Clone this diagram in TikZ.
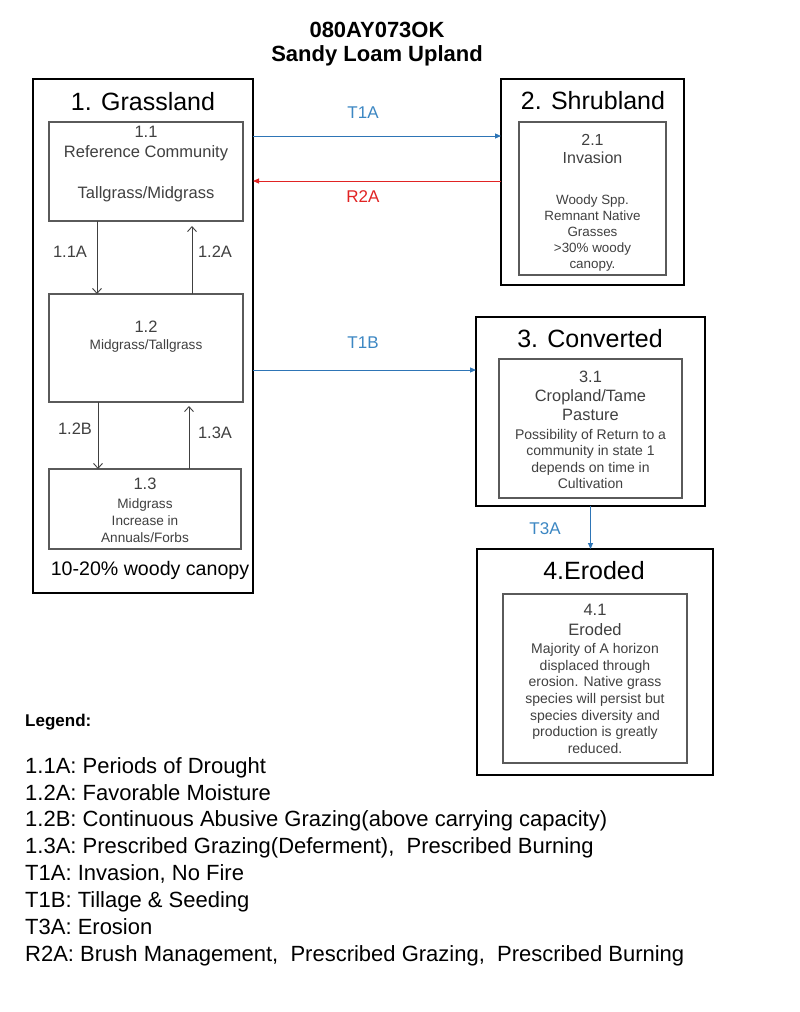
\documentclass[tikz,border=0pt]{standalone}
\usepackage{fontspec}
\setmainfont{Liberation Sans}
\usetikzlibrary{arrows.meta}
\definecolor{arrblue}{RGB}{46,117,182}
\definecolor{lblblue}{RGB}{60,135,195}
\definecolor{arrred}{RGB}{225,35,35}
\definecolor{boxtxt}{RGB}{64,64,64}
\definecolor{innerline}{RGB}{90,90,90}
\newcommand\fsz[2]{\fontsize{#1pt}{#2pt}\selectfont}
\begin{document}
\begin{tikzpicture}[x=1pt,y=-1pt,
  outerbox/.style={draw=black, line width=2.2pt, inner sep=0, outer sep=0},
  innerbox/.style={draw=innerline, line width=1.2pt, inner sep=0, outer sep=0},
  txt/.style={inner sep=0, align=center, anchor=north, text=boxtxt},
  stitle/.style={inner sep=0, anchor=north, text=black, font=\fsz{25}{28}},
  vline/.style={draw=black!75, line width=0.9pt, -{Straight Barb[length=5pt,width=9pt]}},
  bluearrow/.style={draw=arrblue, line width=1pt, -{Triangle[length=6pt,width=5pt]}},
  redarrow/.style={draw=arrred, line width=1pt, -{Triangle[length=6pt,width=5pt]}},
  elabel/.style={inner sep=0, font=\fsz{16.5}{19}, text=boxtxt},
  tlabel/.style={inner sep=0, font=\fsz{17}{20}},
]
\fill[white] (0,0) rectangle (800,1012);
\useasboundingbox (0,0) rectangle (800,1012);

% title
\node[inner sep=0, anchor=north, align=center, font=\fsz{22}{24}\bfseries] (title) at (377,22) {080AY073OK\\Sandy Loam Upland};

% outer state boxes
\node[outerbox, minimum width=220pt, minimum height=514pt] (g) at (143,336) {};
\node[outerbox, minimum width=183pt, minimum height=206pt] (s) at (592.5,182) {};
\node[outerbox, minimum width=229pt, minimum height=189pt] (c) at (590.5,411.5) {};
\node[outerbox, minimum width=236pt, minimum height=226pt] (e) at (595,662) {};

% inner community boxes
\node[innerbox, minimum width=194pt, minimum height=99pt] (b11) at (146,171.5) {};
\node[innerbox, minimum width=194pt, minimum height=108pt] (b12) at (146,348) {};
\node[innerbox, minimum width=192pt, minimum height=80pt] (b13) at (145,509) {};
\node[innerbox, minimum width=147pt, minimum height=153pt] (b21) at (592.5,198.5) {};
\node[innerbox, minimum width=183pt, minimum height=139pt] (b31) at (590.5,428.5) {};
\node[innerbox, minimum width=184pt, minimum height=169pt] (b41) at (595,678.5) {};

% state titles
\node[stitle] (gt) at (143,92) {1. Grassland};
\node[stitle] (st) at (593,91) {2. Shrubland};
\node[stitle] (ct) at (590,329) {3. Converted};
\node[stitle] (et) at (594,561) {4.Eroded};

% community texts
\node[txt, font=\fsz{16.5}{20}] (t11a) at (146,126) {1.1\\Reference Community};
\node[txt, font=\fsz{16.5}{20}] (t11b) at (146,186) {Tallgrass/Midgrass};
\node[txt, font=\fsz{16.5}{20}] (t12a) at (146,321) {1.2};
\node[txt, font=\fsz{13.6}{17}] (t12b) at (146,339) {Midgrass/Tallgrass};
\node[txt, font=\fsz{16.5}{20}] (t13a) at (145,478) {1.3};
\node[txt, font=\fsz{13.6}{17}] (t13b) at (145,498) {Midgrass\\Increase in\\Annuals/Forbs};
\node[inner sep=0, anchor=north, font=\fsz{19.6}{22}] (gcan) at (150,561) {10-20\% woody canopy};

\node[txt, font=\fsz{16}{18}] (t21a) at (592.5,134) {2.1\\Invasion};
\node[txt, font=\fsz{13.4}{16}] (t21b) at (592.5,195) {Woody Spp.\\Remnant Native\\Grasses\\>30\% woody\\canopy.};

\node[txt, font=\fsz{16.4}{19}] (t31a) at (590.5,371) {3.1\\Cropland/Tame\\Pasture};
\node[txt, font=\fsz{14}{16.5}] (t31b) at (590.5,429) {Possibility of Return to a\\community in state 1\\depends on time in\\Cultivation};

\node[txt, font=\fsz{16.5}{19.5}] (t41a) at (595,604) {4.1\\Eroded};
\node[txt, font=\fsz{14}{16.7}] (t41b) at (595,643) {Majority of A horizon\\displaced through\\erosion. Native grass\\species will persist but\\species diversity and\\production is greatly\\reduced.};

% transitions within grassland
\draw[vline] ([xshift=48pt]b11.south west) -- ([xshift=48pt]b12.north west);
\draw[vline] ([xshift=143pt]b12.north west) -- ([xshift=143pt,yshift=-5pt]b11.south west);
\draw[vline] ([xshift=49pt]b12.south west) -- ([xshift=49pt]b13.north west);
\draw[vline] ([xshift=140pt]b13.north west) -- ([xshift=140pt,yshift=-4pt]b12.south west);
\node[elabel] (l11a) at (70,252) {1.1A};
\node[elabel] (l12a) at (215,252) {1.2A};
\node[elabel] (l12b) at (75,429) {1.2B};
\node[elabel] (l13a) at (215,433) {1.3A};

% transitions between states
\draw[bluearrow] ([yshift=-57pt]g.north east) -- ([yshift=-57pt]s.north west);
\draw[redarrow] ([yshift=-102pt]s.north west) -- ([yshift=-102pt]g.north east);
\draw[bluearrow] ([yshift=-291pt]g.north east) -- ([yshift=-53pt]c.north west);
\draw[bluearrow] (c.south) -- (c.south |- e.north);
\node[tlabel, text=lblblue] (lt1a) at (363,113) {T1A};
\node[tlabel, text=arrred] (lr2a) at (363,197) {R2A};
\node[tlabel, text=lblblue] (lt1b) at (363,343) {T1B};
\node[tlabel, text=lblblue] (lt3a) at (545,529) {T3A};

% legend
\node[inner sep=0, anchor=north west, font=\fsz{17}{20}\bfseries] (leg) at (25,714) {Legend:};
\node[inner sep=0, anchor=north west, align=left, font=\fsz{22}{26.9}] (legtxt) at (25,757) {1.1A: Periods of Drought\\
1.2A: Favorable Moisture\\
1.2B: Continuous Abusive Grazing(above carrying capacity)\\
1.3A: Prescribed Grazing(Deferment),\ \ Prescribed Burning\\
T1A: Invasion, No Fire\\
T1B: Tillage \& Seeding\\
T3A: Erosion\\
R2A: Brush Management,\ \ Prescribed Grazing,\ \ Prescribed Burning};
\end{tikzpicture}
\end{document}
